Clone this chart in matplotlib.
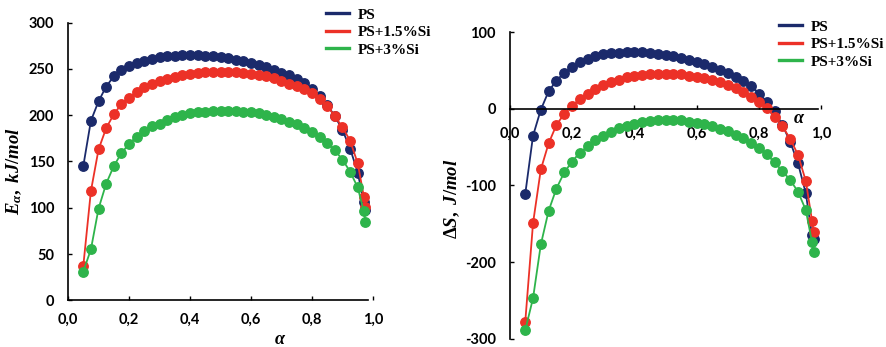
import numpy as np
import matplotlib
matplotlib.use("Agg")
import matplotlib.pyplot as plt

# conversion degree alpha
alpha = [0.05, 0.075, 0.1, 0.125, 0.15, 0.175, 0.2, 0.225, 0.25, 0.275,
         0.3, 0.325, 0.35, 0.375, 0.4, 0.425, 0.45, 0.475, 0.5, 0.525,
         0.55, 0.575, 0.6, 0.625, 0.65, 0.675, 0.7, 0.725, 0.75, 0.775,
         0.8, 0.825, 0.85, 0.875, 0.9, 0.925, 0.95, 0.97, 0.975]

# activation energy, kJ/mol
ea_ps = [145, 194, 215, 231, 242, 249, 253, 256, 259, 261,
         263, 264, 264.5, 265, 265, 265, 264.5, 264, 263, 262,
         260, 258.5, 256.5, 254, 252, 249, 246, 243, 239, 235,
         228, 221, 211, 199, 184, 164, 138, 106, 98]
ea_ps15 = [37, 118, 163, 186, 201, 212, 219, 225, 230, 234,
           237, 239.5, 241.5, 243, 245, 246, 246.5, 247, 247, 247,
           246.5, 246, 245, 243, 242, 240, 237, 234, 231.5, 228,
           223.5, 218, 210, 199, 187, 172.5, 148, 112, 101]
ea_ps3 = [31, 55, 99, 126, 145, 159, 169, 177, 183, 188,
          191, 195, 198, 200, 202, 203, 204, 204.5, 205, 205,
          205, 204, 203, 202, 200.5, 198, 196, 193, 190, 186,
          182, 177, 170, 162, 152, 139, 122, 96, 85]

# entropy change, J/mol
ds_ps = [-111, -35, -1, 23, 37, 47, 55, 61, 65.5, 69,
         71, 72.5, 73.5, 74, 74, 74, 73, 72, 70.5, 68.5,
         66, 64, 61.5, 58.5, 55, 51, 47, 42, 37, 30,
         20, 9, -3, -21, -43, -71, -110, -165, -170]
ds_ps15 = [-278, -149, -79, -45, -21, -6.5, 4, 13, 20, 26,
           31.5, 35, 38, 41, 43, 44, 45, 45.5, 45.5, 45,
           45, 43.5, 42, 40, 37.5, 34.5, 31, 27, 22, 16,
           9, 1, -10, -23, -39, -60, -94, -146, -161]
ds_ps3 = [-289, -247, -177, -133, -104, -83, -69, -57, -49, -41,
          -35, -30, -25, -22, -19.5, -17, -15.5, -14.5, -14, -14,
          -15, -16.5, -18, -20, -23, -26, -29, -33.5, -38, -44,
          -51, -59.5, -70, -81, -93, -108, -132, -174, -187]

labels = ["PS", "PS+1.5%Si", "PS+3%Si"]
colors = ["#1b2a6b", "#ec3127", "#2eb44b"]

x_ticks = [0.0, 0.2, 0.4, 0.6, 0.8, 1.0]
x_ticklabels = ["0,0", "0,2", "0,4", "0,6", "0,8", "1,0"]
ea_ticks = [0, 50, 100, 150, 200, 250, 300]
ds_ticks = [-300, -200, -100, 0, 100]

plt.rcParams["mathtext.fontset"] = "custom"
plt.rcParams["mathtext.rm"] = "Liberation Serif:bold"
plt.rcParams["mathtext.it"] = "Liberation Serif:italic:bold"
plt.rcParams["mathtext.bf"] = "Liberation Serif:bold"

tick_font = dict(family="Lato", weight="bold", size=10.5)
leg_font = dict(family="Liberation Serif", weight="bold", size=11)

fig = plt.figure(figsize=(8.87, 3.47), dpi=100)
ax1 = fig.add_axes([0.0767, 0.1346, 0.3438, 0.8])
ax2 = fig.add_axes([0.5746, 0.024, 0.3514, 0.883])

for ax in (ax1, ax2):
    ax.spines["top"].set_visible(False)
    ax.spines["right"].set_visible(False)
    ax.tick_params(direction="in", length=3, width=1, pad=10)
    for s in ("left", "bottom"):
        ax.spines[s].set_linewidth(1.2)

series1 = [ea_ps, ea_ps15, ea_ps3]
series2 = [ds_ps, ds_ps15, ds_ps3]
for i in range(3):
    ax1.plot(alpha, series1[i], color=colors[i], lw=1.3, marker="o",
             ms=6.8, label=labels[i])
    ax2.plot(alpha, series2[i], color=colors[i], lw=1.3, marker="o",
             ms=6.8, label=labels[i])


def add_legend(ax, x, y):
    leg = ax.legend(loc="upper left", bbox_to_anchor=(x / 887, 1 - y / 347),
                    bbox_transform=fig.transFigure, frameon=False,
                    prop=leg_font, handlelength=1.5, handletextpad=0.55,
                    borderpad=0, borderaxespad=0, labelspacing=0.25)
    for line in leg.get_lines():
        line.set_marker("")
        line.set_linewidth(2.4)
    return leg


# left panel
ax1.set_xlim(0, 1.0)
ax1.set_ylim(0, 300)
ax1.spines["bottom"].set_bounds(0, 0.985)
ax1.set_xticks(x_ticks)
ax1.set_xticklabels(x_ticklabels, **tick_font)
ax1.set_yticks(ea_ticks)
ax1.set_yticklabels([str(v) for v in ea_ticks], **tick_font)
ax1.tick_params(axis="x", pad=9)
ax1.text(-0.175, 0.465, r"$E_{\alpha},\ kJ/mol$", transform=ax1.transAxes,
         rotation=90, ha="center", va="center", fontsize=13.5)
ax1.text(0.695, -0.14, r"$\alpha$", transform=ax1.transAxes,
         ha="center", va="center", fontsize=13)
add_legend(ax1, 326, 8)

# right panel
ax2.set_xlim(0, 1.0)
ax2.set_ylim(-300, 100)
ax2.spines["bottom"].set_position(("data", 0))
ax2.spines["bottom"].set_bounds(0, 0.99)
ax2.set_xticks(x_ticks)
ax2.set_xticklabels(x_ticklabels, **tick_font)
ax2.set_yticks(ds_ticks)
ax2.set_yticklabels([str(v) for v in ds_ticks], **tick_font)
ax2.tick_params(axis="x", pad=13)
ax2.text(-0.185, 0.455, r"$\Delta S,\ J/mol$", transform=ax2.transAxes,
         rotation=90, ha="center", va="center", fontsize=13.5)
ax2.text(0.93, 0.72, r"$\alpha$", transform=ax2.transAxes,
         ha="center", va="center", fontsize=13)
add_legend(ax2, 779, 20)

fig.savefig("out.png", dpi=100)
